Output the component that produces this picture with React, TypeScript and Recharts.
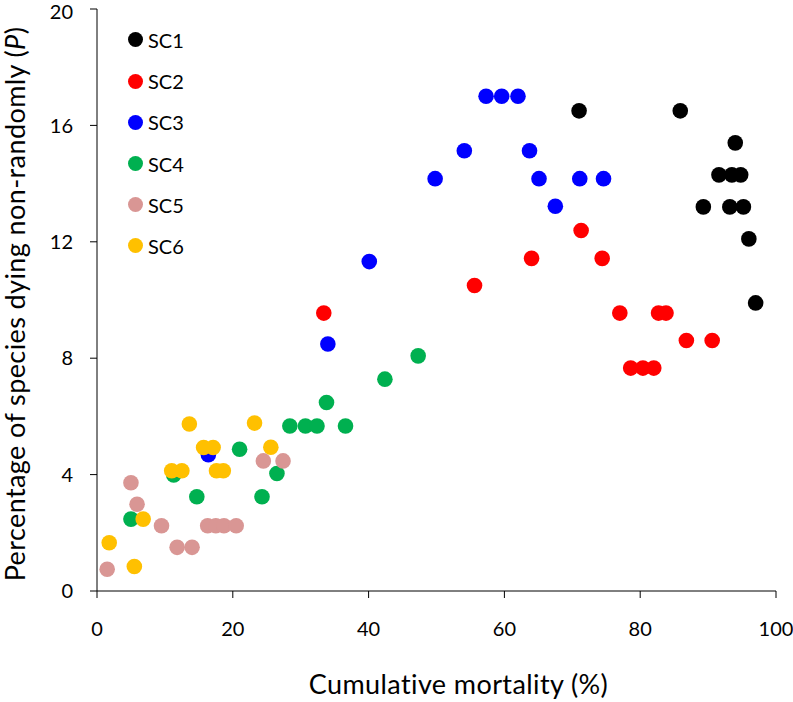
import { ScatterChart, Scatter, XAxis, YAxis, Legend } from "recharts";

const FONT = "Lato, 'Open Sans', sans-serif";

const seriesNames = ["SC1", "SC2", "SC3", "SC4", "SC5", "SC6"];
const seriesColors = ["#000000", "#ff0000", "#0000ff", "#00b050", "#d99694", "#ffc000"];

const xTicks = [0, 20, 40, 60, 80, 100];
const yTicks = [0, 4, 8, 12, 16, 20];

// [cumulative mortality %, % species dying non-randomly]
const sc1: [number, number][] = [
  [71.0, 16.5], [85.9, 16.5], [94.0, 15.4], [91.6, 14.3], [93.5, 14.3], [94.8, 14.3],
  [89.3, 13.2], [93.2, 13.2], [95.2, 13.2], [96.0, 12.1], [97.0, 9.9],
];
const sc2: [number, number][] = [
  [33.4, 9.55], [55.6, 10.5], [64.0, 11.43], [71.3, 12.39], [74.4, 11.43], [77.0, 9.55],
  [82.7, 9.55], [83.8, 9.55], [86.8, 8.61], [90.6, 8.61], [78.6, 7.66], [80.4, 7.66], [82.0, 7.66],
];
const sc3: [number, number][] = [
  [16.4, 4.68], [34.0, 8.49], [40.1, 11.32], [49.8, 14.17], [54.1, 15.13], [57.3, 17.0],
  [59.6, 17.0], [62.0, 17.0], [63.7, 15.13], [65.1, 14.17], [67.5, 13.22], [71.1, 14.17], [74.6, 14.17],
];
const sc4: [number, number][] = [
  [5.0, 2.47], [11.3, 3.99], [14.7, 3.24], [21.0, 4.87], [24.3, 3.24], [26.5, 4.04],
  [28.4, 5.67], [30.7, 5.67], [32.4, 5.67], [33.8, 6.48], [36.6, 5.67], [42.4, 7.28], [47.3, 8.08],
];
const sc5: [number, number][] = [
  [1.5, 0.75], [5.0, 3.72], [5.9, 2.98], [9.5, 2.24], [11.8, 1.5], [14.0, 1.5],
  [16.3, 2.24], [17.5, 2.24], [18.7, 2.24], [20.5, 2.24], [24.5, 4.47], [27.4, 4.47],
];
const sc6: [number, number][] = [
  [1.8, 1.66], [5.5, 0.84], [6.8, 2.47], [11.0, 4.13], [12.5, 4.13], [13.6, 5.74],
  [15.7, 4.93], [17.1, 4.93], [17.6, 4.13], [18.6, 4.13], [23.2, 5.77], [25.6, 4.94],
];

const allSeries = [sc1, sc2, sc3, sc4, sc5, sc6];

const toPoints = (pts: [number, number][]) => pts.map(([x, y]) => ({ x, y }));

const Dot = (props: any) => <circle cx={props.cx} cy={props.cy} r={7.8} fill={props.fill} />;

const titleStyle = { fontFamily: FONT, fontSize: 27, letterSpacing: 0.4 };

const XTitle = (props: any) => {
  const vb = props.viewBox || { x: 0, y: 0, width: 0, height: 0 };
  return (
    <text x={vb.x + vb.width / 2 + 22} y={vb.y + vb.height - 8} textAnchor="middle" fill="#000" style={titleStyle}>
      Cumulative mortality (%)
    </text>
  );
};

const YTitle = (props: any) => {
  const vb = props.viewBox || { x: 0, y: 0, width: 0, height: 0 };
  const cx = vb.x + 25;
  const cy = vb.y + vb.height / 2 + 4;
  return (
    <text
      x={cx}
      y={cy}
      transform={`rotate(-90, ${cx}, ${cy})`}
      textAnchor="middle"
      fill="#000"
      style={titleStyle}
    >
      Percentage of species dying non-randomly (<tspan fontStyle="italic">P</tspan>)
    </text>
  );
};

const LegendList = (props: any) => (
  <div style={{ fontFamily: FONT, fontSize: 20, color: "#000" }}>
    {(props.payload || []).map((p: any) => (
      <div key={p.value} style={{ display: "flex", alignItems: "center", height: 41.2 }}>
        <span
          style={{ width: 15, height: 15, borderRadius: "50%", background: p.color, marginRight: 5 }}
        />
        <span>{p.value}</span>
      </div>
    ))}
  </div>
);

export default function App() {
  const tick = { fontSize: 20, fill: "#000", fontFamily: FONT };
  return (
    <div style={{ position: "absolute", left: 0, top: 0, background: "#fff" }}>
      <ScatterChart width={793} height={702} margin={{ top: 9, right: 17, bottom: 0, left: 0 }}>
        <XAxis
          type="number"
          dataKey="x"
          domain={[0, 100]}
          ticks={xTicks}
          height={111}
          tickSize={7}
          tickMargin={24}
          tick={tick}
          stroke="#000"
          label={<XTitle />}
        />
        <YAxis
          type="number"
          dataKey="y"
          domain={[0, 20]}
          ticks={yTicks}
          width={97}
          tickSize={7}
          tickMargin={17}
          tick={tick}
          stroke="#000"
          label={<YTitle />}
        />
        <Legend
          layout="vertical"
          verticalAlign="middle"
          align="center"
          wrapperStyle={{ left: 128, top: 19.4, width: "auto" }}
          content={<LegendList />}
        />
        {allSeries.map((pts, i) => (
          <Scatter
            key={seriesNames[i]}
            name={seriesNames[i]}
            data={toPoints(pts)}
            fill={seriesColors[i]}
            shape={<Dot />}
            isAnimationActive={false}
          />
        ))}
      </ScatterChart>
    </div>
  );
}
